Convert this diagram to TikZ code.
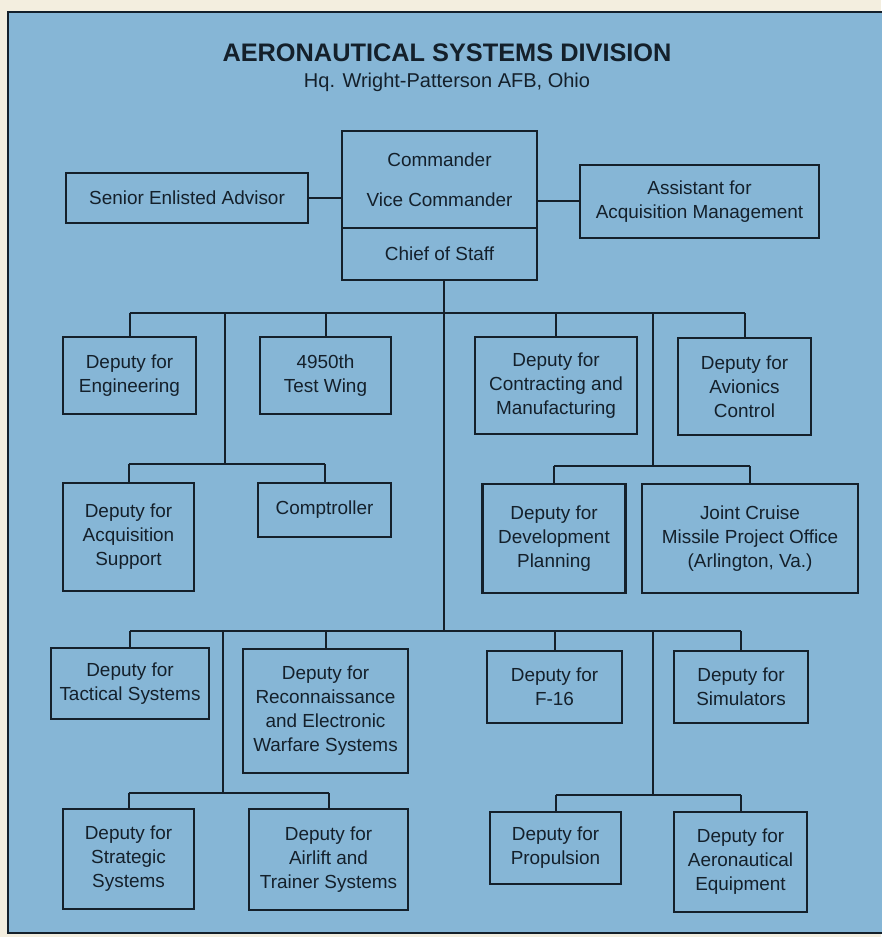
\documentclass[tikz,border=0pt]{standalone}
\usepackage{fontspec}
\setmainfont{Liberation Sans}
\usetikzlibrary{positioning}

\definecolor{paper}{HTML}{F3EEDF}
\definecolor{chartblue}{HTML}{86B6D6}
\definecolor{ink}{HTML}{14202B}

\tikzset{
	office/.style={draw=ink, line width=1.9pt, text=ink, align=center, inner sep=0pt,
		font=\fontsize{14.2}{18}\selectfont},
	wire/.style={draw=ink, line width=1.5pt},
}

\begin{document}
\begin{tikzpicture}[x=0.75pt, y=-0.75pt]

\useasboundingbox (0,0) rectangle (881,937);
\fill[paper] (0,0) rectangle (881,937);
\fill[chartblue] (8,12) rectangle (890,933);
\draw[ink, line width=2pt] (890,12) -- (8,12) -- (8,933) -- (890,933);

\node[text=ink, font=\bfseries\fontsize{19}{22}\selectfont] (title) at (447,53) {AERONAUTICAL SYSTEMS DIVISION};
\node[text=ink, font=\fontsize{15}{18}\selectfont] (sub) at (447,82) {Hq. Wright-Patterson AFB, Ohio};

% top
\node[office, minimum width=195*0.75pt, minimum height=97*0.75pt] (cmd) at (439.5,179.5) {Commander\\[12pt]Vice Commander};
\node[office, minimum width=195*0.75pt, minimum height=52*0.75pt] (cos) at (439.5,254) {Chief of Staff};
\node[office, minimum width=242*0.75pt, minimum height=50*0.75pt] (sea) at (187,198) {Senior Enlisted Advisor};
\node[office, minimum width=239*0.75pt, minimum height=73*0.75pt] (asst) at (699.5,201.5) {Assistant for\\Acquisition Management};

% first tier
\node[office, minimum width=133*0.75pt, minimum height=77*0.75pt] (eng) at (129.5,375.5) {Deputy for\\Engineering};
\node[office, minimum width=131*0.75pt, minimum height=77*0.75pt] (tw) at (325.5,375.5) {4950th\\Test Wing};
\node[office, minimum width=162*0.75pt, minimum height=97*0.75pt] (con) at (556,385.5) {Deputy for\\Contracting and\\Manufacturing};
\node[office, minimum width=133*0.75pt, minimum height=97*0.75pt] (avi) at (744.5,386.5) {Deputy for\\Avionics\\Control};
\node[office, minimum width=131*0.75pt, minimum height=108*0.75pt] (acq) at (128.5,537) {Deputy for\\Acquisition\\Support};
\node[office, minimum width=133*0.75pt, minimum height=54*0.75pt] (comp) at (324.5,510) {Comptroller};
\node[office, minimum width=143*0.75pt, minimum height=109*0.75pt] (dev) at (554,538.5) {Deputy for\\Development\\Planning};
\node[office, minimum width=216*0.75pt, minimum height=109*0.75pt] (jcm) at (750,538.5) {Joint Cruise\\Missile Project Office\\(Arlington, Va.)};

% second tier
\node[office, minimum width=158*0.75pt, minimum height=71*0.75pt] (tac) at (130,683.5) {Deputy for\\Tactical Systems};
\node[office, minimum width=165*0.75pt, minimum height=124*0.75pt] (rec) at (325.5,711) {Deputy for\\Reconnaissance\\and Electronic\\Warfare Systems};
\node[office, minimum width=135*0.75pt, minimum height=72*0.75pt] (f16) at (554.5,687) {Deputy for\\F-16};
\node[office, minimum width=134*0.75pt, minimum height=72*0.75pt] (sim) at (741,687) {Deputy for\\Simulators};
\node[office, minimum width=131*0.75pt, minimum height=100*0.75pt] (str) at (128.5,859) {Deputy for\\Strategic\\Systems};
\node[office, minimum width=159*0.75pt, minimum height=101*0.75pt] (air) at (328.5,859.5) {Deputy for\\Airlift and\\Trainer Systems};
\node[office, minimum width=131*0.75pt, minimum height=72*0.75pt] (pro) at (555.5,848) {Deputy for\\Propulsion};
\node[office, minimum width=133*0.75pt, minimum height=100*0.75pt] (aer) at (740.5,862) {Deputy for\\Aeronautical\\Equipment};

\coordinate (b1) at (444,313);
\coordinate (b2) at (444,631);
\coordinate (l1) at (225,464);
\coordinate (r1) at (653,466);
\coordinate (l2) at (223,793);
\coordinate (r2) at (653,795);

\draw[wire] (sea.east) -- (cmd.west |- sea.east);
\draw[wire] (cmd.east |- asst.west) -- (asst.west);
\draw[wire] (cos.south -| b1) -- (b2);

\newcommand\drops[2]{
	\foreach \n in {#2} { \draw[wire] (\n.north) -- (\n.north |- #1); }
}

\draw[wire] (eng.north |- b1) -- (avi.north |- b1);
\drops{b1}{eng, tw, con, avi}
\draw[wire] (l1 |- b1) -- (l1);
\draw[wire] (acq.north |- l1) -- (comp.north |- l1);
\drops{l1}{acq, comp}
\draw[wire] (r1 |- b1) -- (r1);
\draw[wire] (dev.north |- r1) -- (jcm.north |- r1);
\drops{r1}{dev, jcm}

\draw[wire] (tac.north |- b2) -- (sim.north |- b2);
\drops{b2}{tac, rec, f16, sim}
\draw[wire] (l2 |- b2) -- (l2);
\draw[wire] (str.north |- l2) -- (air.north |- l2);
\drops{l2}{str, air}
\draw[wire] (r2 |- b2) -- (r2);
\draw[wire] (pro.north |- r2) -- (aer.north |- r2);
\drops{r2}{pro, aer}

\end{tikzpicture}
\end{document}
